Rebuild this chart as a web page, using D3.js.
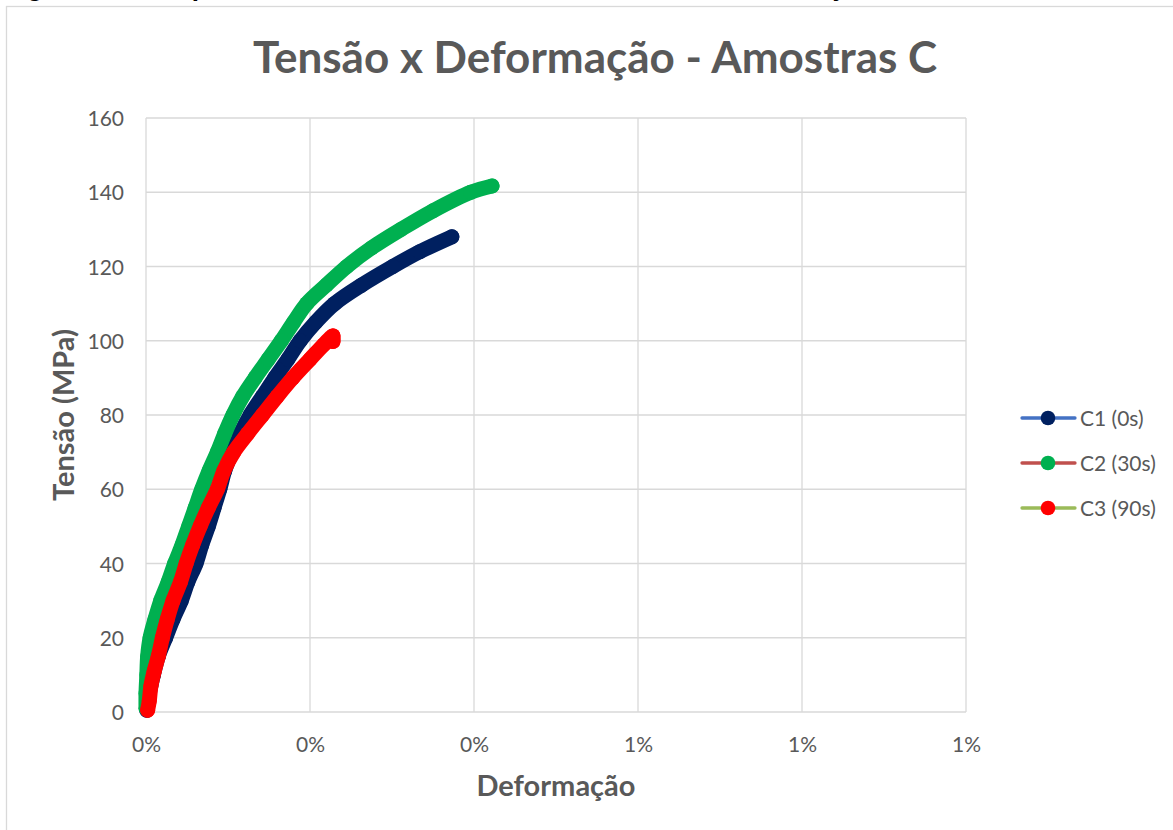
<!DOCTYPE html>
<html>
<head>
<meta charset="utf-8">
<script src="https://cdn.jsdelivr.net/npm/d3@7"></script>
<style>
  html, body { margin: 0; padding: 0; background: #ffffff; }
  svg { display: block; }
</style>
</head>
<body>
<svg id="chart" width="1173" height="830"></svg>
<script>
// ---- data -------------------------------------------------------------
const seriesNames = ["C1 (0s)", "C2 (30s)", "C3 (90s)"];

// strain (fraction) and stress (MPa) for each specimen
const c1Strain = [0.00001, 0.00004, 0.00009, 0.00015, 0.00024, 0.00033, 0.00043, 0.00051, 0.00061, 0.00068,
                  0.00076, 0.00083, 0.00090, 0.00096, 0.00105, 0.00115, 0.00127, 0.00142, 0.00157, 0.00173,
                  0.00188, 0.00207, 0.00230, 0.00263, 0.00301, 0.00334, 0.00373];
const c1Stress = [0.5, 5, 10, 15, 20, 25, 30, 35, 40, 45,
                  50, 55, 60, 65, 70, 75, 80, 85, 90, 95,
                  100, 105, 110, 115, 120, 124, 128];

const c2Strain = [0.00000, 0.00000, 0.00001, 0.00002, 0.00005, 0.00011, 0.00018, 0.00027, 0.00035, 0.00044,
                  0.00052, 0.00060, 0.00068, 0.00077, 0.00087, 0.00096, 0.00106, 0.00118, 0.00133, 0.00149,
                  0.00165, 0.00180, 0.00196, 0.00220, 0.00245, 0.00275, 0.00311, 0.00350, 0.00396, 0.00422];
const c2Stress = [1, 5, 10, 15, 20, 25, 30, 35, 40, 45,
                  50, 55, 60, 65, 70, 75, 80, 85, 90, 95,
                  100, 105, 110, 115, 120, 125, 130, 135, 140, 141.7];

const c3Strain = [0.00002, 0.00004, 0.00006, 0.00010, 0.00015, 0.00020, 0.00026, 0.00033, 0.00042, 0.00049,
                  0.00057, 0.00066, 0.00076, 0.00087, 0.00095, 0.00107, 0.00124, 0.00142, 0.00160, 0.00179,
                  0.00200, 0.00217, 0.00228, 0.00228];
const c3Stress = [0.5, 3, 7, 11, 15, 20, 25, 30, 35, 40,
                  45, 50, 55, 60, 65, 70, 75, 80, 85, 90,
                  95, 99, 101.3, 99.8];

const xTickValues = [0, 0.002, 0.004, 0.006, 0.008, 0.010];
const yTickValues = [0, 20, 40, 60, 80, 100, 120, 140, 160];

// ---- setup ------------------------------------------------------------
const svg = d3.select("#chart");
const textGray = "#595959";
const gridGray = "#d9d9d9";
const baseFont = "Lato, 'Open Sans', sans-serif";

const plot = { left: 146, right: 966, top: 118, bottom: 712 };
const x = d3.scaleLinear().domain([0, 0.01]).range([plot.left, plot.right]);
const y = d3.scaleLinear().domain([0, 160]).range([plot.bottom, plot.top]);

svg.append("rect").attr("width", 1173).attr("height", 830).attr("fill", "#ffffff");

// figure caption running above the chart frame
svg.append("text")
  .attr("x", 4).attr("y", -4)
  .attr("font-family", "'Liberation Sans', Arial, sans-serif")
  .attr("font-weight", "bold")
  .attr("font-size", 26)
  .attr("fill", "#000000")
  .text("Figura 4 – Comportamento das amostras C durante o ensaio de tração");

// chart frame
svg.append("rect")
  .attr("x", 6.5).attr("y", 6.5)
  .attr("width", 1250).attr("height", 900)
  .attr("fill", "#ffffff")
  .attr("stroke", gridGray).attr("stroke-width", 1.3);

// ---- gridlines ---------------------------------------------------------
const grid = svg.append("g");
grid.selectAll("line.h").data(yTickValues).join("line")
  .attr("x1", plot.left).attr("x2", plot.right)
  .attr("y1", d => y(d)).attr("y2", d => y(d))
  .attr("stroke", gridGray).attr("stroke-width", 1.3);
grid.selectAll("line.v").data(xTickValues).join("line")
  .attr("y1", plot.top).attr("y2", plot.bottom)
  .attr("x1", d => x(d)).attr("x2", d => x(d))
  .attr("stroke", gridGray).attr("stroke-width", 1.3);

// ---- axes ---------------------------------------------------------------
const yAxis = svg.append("g")
  .attr("transform", `translate(${plot.left},0)`)
  .call(d3.axisLeft(y).tickValues(yTickValues).tickSize(0).tickPadding(22));
const xAxis = svg.append("g")
  .attr("transform", `translate(0,${plot.bottom})`)
  .call(d3.axisBottom(x).tickValues(xTickValues).tickFormat(d3.format(".0%")).tickSize(0).tickPadding(25));
[yAxis, xAxis].forEach(g => {
  g.select(".domain").remove();
  g.selectAll("text")
    .attr("font-family", baseFont)
    .attr("font-size", 21)
    .attr("fill", textGray);
});
yAxis.selectAll("text").attr("dy", "0.36em");

// ---- series -------------------------------------------------------------
const series = [
  { name: seriesNames[0], strain: c1Strain, stress: c1Stress, marker: "#002060", line: "#4472C4" },
  { name: seriesNames[1], strain: c2Strain, stress: c2Stress, marker: "#00B050", line: "#C0504D" },
  { name: seriesNames[2], strain: c3Strain, stress: c3Stress, marker: "#FF0000", line: "#9BBB59" }
];
series.forEach(s => { s.points = s.strain.map((v, i) => ({ e: v, t: s.stress[i] })); });

const lineGen = d3.line()
  .x(d => x(d.e))
  .y(d => y(d.t))
  .curve(d3.curveCatmullRom.alpha(0.5));

const markerR = 7.5;
const seriesG = svg.append("g");
series.forEach(s => {
  const g = seriesG.append("g");
  // connecting line
  g.append("path")
    .attr("d", lineGen(s.points))
    .attr("fill", "none")
    .attr("stroke", s.line)
    .attr("stroke-width", 2.5);
  // closely spaced markers along the recorded curve
  g.append("path")
    .attr("d", lineGen(s.points))
    .attr("fill", "none")
    .attr("stroke", s.marker)
    .attr("stroke-width", markerR * 2)
    .attr("stroke-linecap", "round")
    .attr("stroke-linejoin", "round");
  g.selectAll("circle").data(s.points).join("circle")
    .attr("cx", d => x(d.e))
    .attr("cy", d => y(d.t))
    .attr("r", markerR)
    .attr("fill", s.marker);
});

// ---- titles -------------------------------------------------------------
svg.append("text")
  .attr("x", 595).attr("y", 73)
  .attr("text-anchor", "middle")
  .attr("font-family", baseFont)
  .attr("font-weight", "bold")
  .attr("font-size", 44)
  .attr("fill", textGray)
  .text("Tensão x Deformação - Amostras C");

svg.append("text")
  .attr("x", 556).attr("y", 796)
  .attr("text-anchor", "middle")
  .attr("font-family", baseFont)
  .attr("font-weight", "bold")
  .attr("font-size", 29)
  .attr("fill", textGray)
  .text("Deformação");

svg.append("text")
  .attr("transform", "translate(74,415) rotate(-90)")
  .attr("text-anchor", "middle")
  .attr("font-family", baseFont)
  .attr("font-weight", "bold")
  .attr("font-size", 29)
  .attr("fill", textGray)
  .text("Tensão (MPa)");

// ---- legend -------------------------------------------------------------
const legendRows = [418, 463, 508];
const legend = svg.append("g");
series.forEach((s, i) => {
  const ry = legendRows[i];
  legend.append("line")
    .attr("x1", 1022).attr("x2", 1075)
    .attr("y1", ry).attr("y2", ry)
    .attr("stroke", s.line).attr("stroke-width", 3.3)
    .attr("stroke-linecap", "round");
  legend.append("circle")
    .attr("cx", 1048).attr("cy", ry).attr("r", 7.3)
    .attr("fill", s.marker);
  legend.append("text")
    .attr("x", 1080).attr("y", ry + 7.5)
    .attr("font-family", baseFont)
    .attr("font-size", 21)
    .attr("fill", textGray)
    .text(s.name);
});
</script>
</body>
</html>
